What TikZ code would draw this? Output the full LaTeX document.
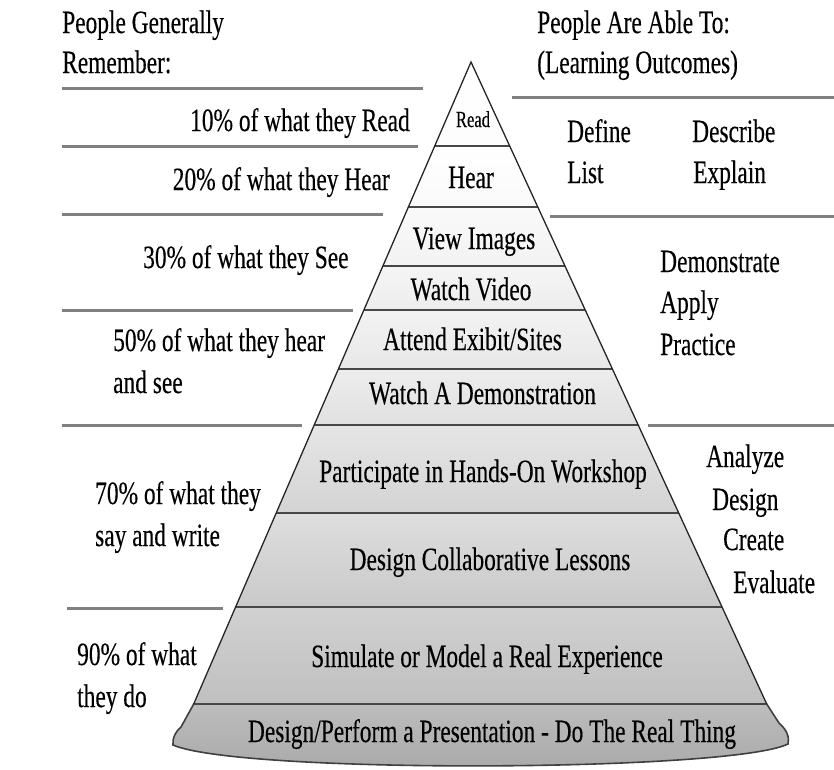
\documentclass[tikz,border=0pt]{standalone}
\usepackage{fontspec}
\setmainfont[FakeStretch=0.72,FakeBold=0.3]{Liberation Serif}
\begin{document}
\begin{tikzpicture}[x=1pt,y=-1pt]
\tikzset{
  lbl/.style={inner sep=0pt, text=black, font=\fontsize{32.5}{39}\selectfont},
  smalllbl/.style={inner sep=0pt, text=black, font=\fontsize{23}{28}\selectfont},
  sideline/.style={draw=black!50, line width=3pt},
  bandline/.style={draw=black!72, line width=2.4pt},
  edgeline/.style={draw=black!85, line width=1.3pt},
}
\useasboundingbox (0,0) rectangle (834,769);
\fill[white] (0,0) rectangle (834,769);

% pyramid coordinates
\coordinate (A) at (471,62);
\coordinate (L1) at (434.7,146); \coordinate (R1) at (509.7,146);
\coordinate (L2) at (408.4,207); \coordinate (R2) at (537.8,207);
\coordinate (L3) at (382.9,266); \coordinate (R3) at (565.0,266);
\coordinate (L4) at (363.9,310); \coordinate (R4) at (585.2,310);
\coordinate (L5) at (338.4,369); \coordinate (R5) at (612.4,369);
\coordinate (L6) at (314.2,425); \coordinate (R6) at (638.2,425);
\coordinate (L7) at (276.2,513); \coordinate (R7) at (678.7,513);
\coordinate (L8) at (235.6,607); \coordinate (R8) at (722.0,607);
\coordinate (L9) at (193.7,704); \coordinate (R9) at (766.7,704);
\coordinate (BR1) at (779,723); \coordinate (BR2) at (788,744);
\coordinate (BL1) at (181,727); \coordinate (BL2) at (173,745);

% band fills
\shade[top color=white, bottom color=black!1] (A) -- (R1) -- (L1) -- cycle;
\shade[top color=white, bottom color=black!2] (L1) -- (R1) -- (R2) -- (L2) -- cycle;
\shade[top color=black!2, bottom color=black!5] (L2) -- (R2) -- (R3) -- (L3) -- cycle;
\shade[top color=black!4, bottom color=black!7] (L3) -- (R3) -- (R4) -- (L4) -- cycle;
\shade[top color=black!5, bottom color=black!9] (L4) -- (R4) -- (R5) -- (L5) -- cycle;
\shade[top color=black!7, bottom color=black!12] (L5) -- (R5) -- (R6) -- (L6) -- cycle;
\shade[top color=black!10, bottom color=black!17] (L6) -- (R6) -- (R7) -- (L7) -- cycle;
\shade[top color=black!13, bottom color=black!21] (L7) -- (R7) -- (R8) -- (L8) -- cycle;
\shade[top color=black!18, bottom color=black!25] (L8) -- (R8) -- (R9) -- (L9) -- cycle;
\shade[top color=black!26, bottom color=black!34, draw=black!75, line width=1.6pt]
  (L9) -- (R9) -- (BR1) .. controls (786,729) and (790,737) .. (BR2)
  .. controls (730,772) and (240,774) .. (BL2)
  .. controls (172,738) and (176,731) .. (BL1) -- cycle;

% band separators
\foreach \i in {1,...,9} { \draw[bandline] (L\i) -- (R\i); }
% pyramid edges
\draw[edgeline] (L9) -- (A) -- (R9);

% side lines
\coordinate (sl1a) at (62,88);  \coordinate (sl1b) at (423,88);
\coordinate (sl2a) at (62,146); \coordinate (sl2b) at (418,146);
\coordinate (sl3a) at (62,214); \coordinate (sl3b) at (383,214);
\coordinate (sl4a) at (62,310); \coordinate (sl4b) at (353,310);
\coordinate (sl5a) at (62,425); \coordinate (sl5b) at (302,425);
\coordinate (sl6a) at (67,608); \coordinate (sl6b) at (223,608);
\coordinate (sr1a) at (512,97);  \coordinate (sr1b) at (834,97);
\coordinate (sr2a) at (550,216); \coordinate (sr2b) at (834,216);
\coordinate (sr3a) at (648,425); \coordinate (sr3b) at (834,425);
\foreach \p in {sl1,sl2,sl3,sl4,sl5,sl6,sr1,sr2,sr3} { \draw[sideline] (\p a) -- (\p b); }

% headers
\node[lbl, anchor=base west] (hl1) at (62,33) {People Generally};
\node[lbl, anchor=base west] (hl2) at (62,73) {Remember:};
\node[lbl, anchor=base west] (hr1) at (537,33) {People Are Able To:};
\node[lbl, anchor=base west] (hr2) at (537,73) {(Learning Outcomes)};

% left texts
\node[lbl, anchor=base east] (t10) at (410,131) {10\% of what they Read};
\node[lbl, anchor=base east] (t20) at (390,190) {20\% of what they Hear};
\node[lbl, anchor=base west] (t30) at (143,268) {30\% of what they See};
\node[lbl, anchor=base west] (t50a) at (113,351) {50\% of what they hear};
\node[lbl, anchor=base west] (t50b) at (113,393) {and see};
\node[lbl, anchor=base west] (t70a) at (95,504) {70\% of what they};
\node[lbl, anchor=base west] (t70b) at (95,546) {say and write};
\node[lbl, anchor=base west] (t90a) at (77,665) {90\% of what};
\node[lbl, anchor=base west] (t90b) at (77,707) {they do};

% right texts
\node[lbl, anchor=base west] (oDef) at (567,142) {Define};
\node[lbl, anchor=base west] (oList) at (567,183) {List};
\node[lbl, anchor=base west] (oDes) at (692,142) {Describe};
\node[lbl, anchor=base west] (oExp) at (693,183) {Explain};
\node[lbl, anchor=base west] (oDem) at (660,272) {Demonstrate};
\node[lbl, anchor=base west] (oApp) at (660,313) {Apply};
\node[lbl, anchor=base west] (oPra) at (660,355) {Practice};
\node[lbl, anchor=base west] (oAna) at (706,467) {Analyze};
\node[lbl, anchor=base west] (oDsg) at (712,510) {Design};
\node[lbl, anchor=base west] (oCre) at (723,550) {Create};
\node[lbl, anchor=base west] (oEva) at (733,593) {Evaluate};

% pyramid labels
\node[smalllbl, anchor=base] (pRead) at (473,127) {Read};
\node[lbl, anchor=base] (pHear) at (471,188) {Hear};
\node[lbl, anchor=base] (pView) at (474,249) {View Images};
\node[lbl, anchor=base] (pVideo) at (471,300) {Watch Video};
\node[lbl, anchor=base] (pAttend) at (472.5,350) {Attend Exibit/Sites};
\node[lbl, anchor=base] (pDemo) at (482.5,404) {Watch A Demonstration};
\node[lbl, anchor=base] (pPart) at (483,482) {Participate in Hands-On Workshop};
\node[lbl, anchor=base] (pColl) at (490,570) {Design Collaborative Lessons};
\node[lbl, anchor=base] (pSim) at (487,667) {Simulate or Model a Real Experience};
\node[lbl, anchor=base] (pReal) at (492,742) {Design/Perform a Presentation - Do The Real Thing};
\end{tikzpicture}
\end{document}
